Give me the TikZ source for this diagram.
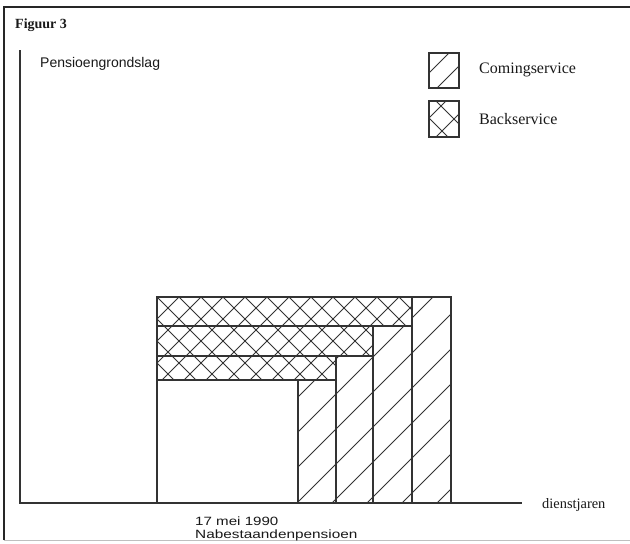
\documentclass[tikz,border=0pt]{standalone}
\usepackage{fontspec}
\setmainfont{Liberation Serif}
\newfontfamily\sansf{Liberation Sans}
\begin{document}
\begin{tikzpicture}[x=1pt,y=-1pt,
  frameline/.style={draw=black!85, line width=1.6pt},
  axisline/.style={draw=black!80, line width=1.2pt},
  edgeline/.style={draw=black!80, line width=1.2pt},
  hatchline/.style={draw=black!80, line width=0.9pt},
  lbl/.style={anchor=base west, inner sep=0pt, text=black!90}]
\useasboundingbox (0,0) rectangle (630,544);
\fill[white] (0,0) rectangle (630,544);

% frame
\draw[frameline] (4,540) -- (4,7) -- (630,7);
\draw[black!25, line width=0.8pt] (4,540) -- (630,540);

% coming service hatch (single diagonal)
\begin{scope}
  \clip (298,380) -- (336,380) -- (336,356) -- (373,356) -- (373,326) -- (412,326)
        -- (412,297) -- (451,297) -- (451,503) -- (298,503) -- cycle;
  \foreach \c in {660,695,...,1000} {\draw[hatchline] (\c,0) -- (\c-600,600);}
\end{scope}

% back service crosshatch
\begin{scope}
  \clip (157,297) -- (412,297) -- (412,326) -- (373,326) -- (373,356) -- (336,356)
        -- (336,380) -- (157,380) -- cycle;
  \foreach \c in {454,476,...,800} {\draw[hatchline] (\c,0) -- (\c-600,600);}
  \foreach \d in {-338,-316,...,130} {\draw[hatchline] (\d,0) -- (\d+600,600);}
\end{scope}

% outlines of the blocks
\coordinate (TL) at (157,297);
\coordinate (TR) at (451,297);
\draw[edgeline] (157,503) -- (TL) -- (TR) -- (451,503);
\draw[edgeline] (412,297) -- (412,503);
\draw[edgeline] (157,326) -- (412,326);
\draw[edgeline] (373,326) -- (373,503);
\draw[edgeline] (157,356) -- (373,356);
\draw[edgeline] (336,356) -- (336,503);
\draw[edgeline] (157,380) -- (336,380);
\draw[edgeline] (298,380) -- (298,503);

% axes
\coordinate (ytop) at (20,50);
\coordinate (origin) at (20,503);
\coordinate (xend) at (522,503);
\draw[axisline] (ytop) -- (origin) -- (xend);

% legend
\begin{scope}
  \clip (429,53) rectangle (459,88);
  \foreach \c in {502,525} {\draw[hatchline] (\c,0) -- (\c-600,600);}
\end{scope}
\draw[edgeline] (429,53) rectangle (459,88);
\begin{scope}
  \clip (429,101) rectangle (459,137);
  \foreach \c in {547,573} {\draw[hatchline] (\c,0) -- (\c-600,600);}
  \foreach \d in {311,335} {\draw[hatchline] (\d,0) -- (\d+600,600);}
\end{scope}
\draw[edgeline] (429,101) rectangle (459,137);

% texts
\node[lbl, font=\fontsize{14}{14}\selectfont\bfseries] (title) at (15,28) {Figuur 3};
\node[lbl, font=\sansf\fontsize{14}{14}\selectfont] (ylab) at (40,67) {Pensioengrondslag};
\node[lbl, font=\fontsize{16}{16}\selectfont] (leg1) at (479,73) {Comingservice};
\node[lbl, font=\fontsize{16}{16}\selectfont] (leg2) at (479,124) {Backservice};
\node[lbl, font=\fontsize{14.4}{14.4}\selectfont] (xlab) at (542,508) {dienstjaren};
\node[lbl, font=\sansf\fontsize{12}{12}\selectfont] (date) at (195,525) {\scalebox{1.26}[1]{17 mei 1990}};
\node[lbl, font=\sansf\fontsize{12}{12}\selectfont] (nabest) at (195,538) {\scalebox{1.28}[1]{Nabestaandenpensioen}};
\end{tikzpicture}
\end{document}
